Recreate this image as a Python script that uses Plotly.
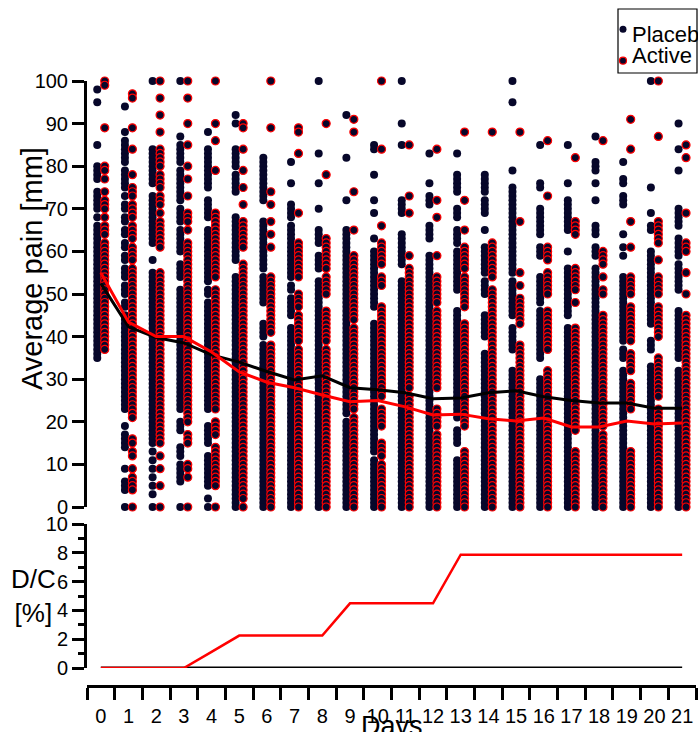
import plotly.graph_objects as go

days = list(range(22))
day_labels = [str(d) for d in days]

placebo_scores = [
    [98, 95, 85, 80, 79, 78, 77, 74, 73, 72, 71, 70, 68, 66, 65, 64, 63, 62, 61, 60, 59, 58, 57, 56, 55, 54, 53, 52, 51, 50, 49, 48, 47, 46, 45, 44, 43, 42, 41, 40, 39, 38, 37, 36, 35],
    [94, 88, 86, 85, 84, 83, 82, 81, 79, 78, 77, 76, 75, 73, 71, 70, 68, 67, 65, 64, 62, 61, 59, 58, 56, 55, 54, 52, 51, 50, 48, 47, 45, 44, 43, 42, 41, 40, 39, 38, 37, 36, 35, 34, 33, 32, 31, 30, 29, 28, 27, 26, 25, 24, 23, 19, 17, 16, 15, 14, 9, 6, 5, 4, 0],
    [100, 84, 83, 82, 81, 80, 79, 78, 77, 76, 73, 72, 71, 70, 69, 68, 67, 66, 65, 64, 63, 62, 58, 55, 54, 53, 52, 51, 50, 49, 48, 47, 46, 45, 44, 43, 42, 41, 40, 39, 38, 37, 36, 35, 34, 33, 32, 31, 30, 29, 28, 27, 26, 25, 24, 23, 22, 21, 20, 19, 18, 17, 16, 15, 13, 11, 9, 7, 5, 3, 0],
    [100, 87, 85, 84, 83, 82, 81, 79, 78, 77, 76, 75, 74, 73, 72, 70, 69, 68, 67, 65, 64, 63, 62, 61, 60, 57, 56, 55, 54, 51, 50, 49, 48, 47, 46, 45, 44, 43, 42, 41, 40, 39, 38, 37, 36, 35, 34, 33, 32, 31, 30, 29, 28, 27, 26, 25, 24, 23, 20, 19, 18, 14, 13, 12, 10, 9, 8, 7, 6, 0],
    [88, 84, 83, 82, 81, 80, 79, 78, 77, 76, 75, 72, 71, 70, 69, 68, 65, 64, 63, 62, 61, 60, 59, 58, 57, 56, 55, 54, 53, 51, 50, 48, 47, 46, 45, 44, 43, 42, 41, 40, 39, 38, 37, 36, 35, 34, 33, 32, 31, 30, 29, 28, 27, 26, 25, 24, 23, 19, 18, 17, 16, 15, 12, 11, 10, 9, 8, 7, 6, 5, 2, 0],
    [92, 90, 84, 83, 82, 81, 80, 78, 77, 76, 75, 74, 68, 67, 66, 65, 64, 63, 62, 61, 60, 59, 58, 54, 53, 52, 51, 50, 49, 48, 47, 46, 45, 44, 43, 42, 41, 40, 39, 38, 37, 36, 35, 34, 33, 32, 31, 30, 29, 28, 27, 26, 25, 24, 23, 22, 21, 20, 19, 18, 17, 16, 15, 14, 13, 12, 11, 10, 9, 8, 7, 6, 5, 4, 3, 2, 1, 0],
    [82, 81, 80, 79, 78, 77, 76, 75, 74, 73, 72, 67, 66, 65, 64, 63, 62, 61, 60, 59, 58, 57, 56, 54, 53, 52, 51, 50, 49, 48, 43, 42, 41, 40, 38, 37, 36, 35, 34, 33, 32, 31, 30, 29, 28, 27, 26, 25, 24, 23, 22, 21, 20, 19, 18, 17, 16, 15, 14, 13, 12, 11, 10, 9, 8, 7, 6, 5, 4, 3, 2, 1, 0],
    [81, 76, 71, 70, 69, 68, 66, 65, 64, 63, 62, 61, 60, 59, 58, 57, 56, 55, 54, 52, 51, 49, 48, 47, 46, 45, 42, 41, 40, 39, 38, 37, 36, 35, 34, 33, 32, 31, 30, 29, 28, 27, 26, 25, 24, 23, 22, 21, 20, 19, 18, 17, 16, 15, 14, 13, 12, 11, 10, 9, 8, 7, 6, 5, 4, 3, 2, 1, 0],
    [100, 83, 76, 70, 65, 64, 63, 62, 59, 58, 57, 56, 53, 52, 51, 50, 49, 48, 47, 46, 45, 44, 43, 42, 41, 40, 39, 38, 37, 36, 35, 34, 33, 32, 31, 30, 29, 28, 27, 26, 25, 24, 23, 22, 21, 20, 19, 18, 17, 16, 15, 14, 13, 12, 11, 10, 9, 8, 7, 6, 5, 4, 3, 2, 1, 0],
    [92, 82, 72, 65, 64, 63, 62, 61, 60, 59, 58, 57, 56, 55, 54, 53, 52, 51, 50, 49, 48, 47, 46, 45, 44, 43, 42, 41, 40, 39, 38, 37, 36, 35, 34, 33, 32, 31, 30, 29, 28, 27, 26, 25, 24, 23, 22, 20, 19, 18, 17, 16, 15, 14, 13, 12, 11, 10, 9, 8, 7, 6, 5, 4, 3, 2, 1, 0],
    [85, 84, 78, 72, 69, 63, 60, 59, 58, 57, 56, 55, 54, 53, 52, 51, 50, 49, 48, 47, 43, 42, 41, 40, 39, 38, 37, 36, 35, 34, 33, 32, 31, 30, 29, 28, 27, 26, 25, 24, 23, 22, 21, 20, 19, 18, 17, 16, 15, 14, 13, 11, 10, 9, 8, 7, 6, 5, 4, 3, 2, 1, 0],
    [100, 90, 85, 72, 71, 70, 69, 64, 63, 62, 61, 60, 59, 58, 57, 53, 52, 51, 50, 49, 48, 47, 46, 45, 44, 43, 42, 41, 40, 39, 38, 37, 36, 35, 34, 33, 32, 31, 30, 29, 28, 27, 26, 25, 24, 23, 22, 21, 20, 19, 18, 17, 16, 15, 14, 13, 12, 11, 10, 9, 8, 7, 6, 5, 4, 3, 2, 1, 0],
    [83, 76, 73, 72, 71, 66, 65, 64, 63, 59, 58, 57, 56, 55, 54, 53, 52, 51, 50, 49, 48, 47, 46, 45, 44, 43, 42, 41, 40, 39, 38, 37, 36, 35, 34, 33, 32, 31, 30, 29, 28, 27, 26, 25, 24, 23, 22, 21, 20, 19, 18, 17, 16, 15, 14, 13, 12, 11, 10, 9, 8, 7, 6, 5, 4, 3, 2, 1, 0],
    [83, 78, 77, 76, 75, 74, 70, 69, 68, 65, 64, 63, 62, 60, 59, 58, 57, 56, 55, 54, 53, 52, 51, 46, 45, 44, 43, 42, 41, 40, 39, 38, 37, 36, 35, 34, 33, 32, 31, 30, 29, 28, 27, 26, 25, 24, 23, 22, 21, 18, 17, 16, 15, 11, 10, 9, 8, 7, 6, 5, 4, 3, 2, 1, 0],
    [78, 77, 76, 75, 74, 72, 71, 70, 69, 65, 61, 60, 59, 58, 57, 56, 55, 53, 52, 51, 50, 45, 44, 43, 42, 41, 40, 36, 35, 34, 33, 32, 31, 30, 29, 28, 27, 26, 25, 24, 23, 22, 21, 20, 19, 18, 17, 16, 15, 14, 13, 12, 11, 10, 9, 8, 7, 6, 5, 4, 3, 2, 1, 0],
    [100, 95, 79, 75, 74, 73, 72, 71, 70, 69, 68, 67, 66, 65, 64, 63, 62, 61, 60, 59, 58, 57, 56, 55, 53, 52, 51, 50, 49, 48, 47, 46, 45, 42, 41, 40, 39, 38, 37, 32, 31, 30, 29, 28, 27, 26, 25, 24, 23, 22, 21, 20, 19, 18, 17, 16, 15, 14, 13, 12, 11, 10, 9, 8, 7, 6, 5, 4, 3, 2, 1, 0],
    [85, 76, 75, 70, 69, 68, 67, 66, 65, 64, 61, 60, 59, 54, 53, 52, 51, 50, 49, 48, 46, 45, 44, 43, 42, 41, 40, 39, 38, 37, 36, 35, 30, 29, 28, 27, 26, 25, 24, 23, 22, 21, 20, 19, 18, 17, 16, 15, 14, 13, 12, 11, 10, 9, 8, 7, 6, 5, 4, 3, 2, 1, 0],
    [85, 76, 72, 71, 70, 69, 68, 67, 66, 65, 60, 56, 55, 54, 53, 52, 51, 50, 49, 48, 47, 46, 45, 42, 41, 40, 39, 38, 37, 36, 35, 34, 33, 32, 31, 30, 29, 28, 27, 26, 25, 24, 23, 22, 21, 20, 19, 18, 17, 16, 15, 14, 13, 12, 11, 10, 9, 8, 7, 6, 5, 4, 3, 2, 1, 0],
    [87, 81, 80, 79, 76, 72, 66, 65, 64, 61, 60, 59, 56, 55, 54, 53, 52, 51, 50, 49, 48, 47, 46, 45, 44, 43, 42, 41, 40, 39, 38, 37, 36, 35, 34, 33, 32, 31, 30, 29, 28, 27, 26, 25, 24, 23, 22, 21, 20, 19, 18, 17, 16, 15, 14, 13, 12, 11, 10, 9, 8, 7, 6, 5, 4, 3, 2, 1, 0],
    [81, 77, 76, 73, 72, 71, 64, 61, 59, 54, 53, 52, 51, 50, 49, 48, 47, 46, 45, 44, 43, 42, 41, 40, 39, 37, 36, 35, 32, 31, 30, 29, 28, 27, 26, 25, 24, 23, 22, 21, 20, 19, 18, 17, 16, 15, 14, 13, 12, 11, 10, 9, 8, 7, 6, 5, 4, 3, 2, 1, 0],
    [100, 75, 69, 66, 65, 60, 59, 58, 57, 56, 55, 54, 53, 52, 51, 50, 49, 48, 47, 46, 45, 44, 43, 39, 38, 37, 33, 32, 31, 30, 29, 28, 27, 26, 25, 24, 23, 22, 21, 20, 19, 18, 17, 16, 15, 14, 13, 12, 11, 10, 9, 8, 7, 6, 5, 4, 3, 2, 1, 0],
    [90, 84, 79, 70, 69, 68, 67, 66, 63, 62, 61, 60, 59, 57, 56, 55, 54, 53, 52, 51, 46, 45, 44, 43, 42, 41, 40, 39, 38, 37, 36, 35, 32, 31, 30, 29, 28, 27, 26, 25, 24, 23, 22, 21, 20, 19, 18, 17, 16, 15, 14, 13, 12, 11, 10, 9, 8, 7, 6, 5, 4, 3, 2, 1, 0],
]

active_scores = [
    [100, 99, 89, 80, 79, 77, 74, 72, 71, 70, 68, 66, 65, 64, 62, 61, 60, 59, 58, 57, 56, 55, 54, 53, 52, 51, 50, 49, 48, 47, 46, 45, 44, 43, 42, 41, 40, 39, 38, 37],
    [97, 96, 89, 84, 78, 75, 74, 73, 71, 70, 69, 68, 66, 65, 64, 63, 61, 60, 59, 58, 56, 55, 54, 53, 52, 51, 50, 49, 48, 47, 46, 45, 44, 43, 42, 41, 40, 39, 38, 37, 36, 35, 34, 33, 32, 31, 30, 29, 28, 27, 26, 25, 24, 23, 22, 21, 16, 15, 13, 12, 9, 7, 6, 5, 4, 0],
    [100, 96, 92, 88, 84, 83, 82, 81, 80, 78, 77, 76, 75, 73, 72, 71, 69, 67, 66, 65, 64, 63, 62, 61, 55, 54, 53, 52, 51, 50, 49, 48, 47, 46, 45, 44, 43, 42, 41, 40, 39, 38, 37, 36, 35, 34, 33, 32, 31, 30, 29, 28, 27, 26, 25, 24, 23, 22, 21, 20, 19, 18, 17, 16, 15, 12, 9, 5, 0],
    [100, 96, 90, 85, 80, 77, 73, 69, 68, 67, 65, 62, 61, 60, 59, 58, 57, 56, 55, 54, 53, 52, 51, 50, 49, 48, 47, 46, 45, 44, 43, 42, 41, 40, 39, 38, 37, 36, 35, 34, 33, 32, 31, 30, 29, 28, 27, 26, 25, 24, 23, 22, 21, 20, 17, 16, 15, 10, 9, 7, 0],
    [100, 90, 86, 79, 69, 68, 67, 66, 65, 64, 63, 62, 61, 60, 59, 58, 57, 56, 55, 54, 51, 50, 49, 48, 47, 46, 45, 44, 43, 42, 41, 40, 39, 38, 37, 36, 35, 34, 33, 32, 31, 30, 29, 28, 27, 26, 25, 24, 23, 20, 19, 18, 17, 14, 13, 12, 11, 10, 9, 8, 7, 6, 5, 0],
    [90, 89, 84, 79, 75, 71, 67, 66, 65, 64, 63, 62, 61, 57, 56, 55, 54, 53, 52, 51, 50, 49, 48, 47, 46, 45, 44, 43, 42, 41, 40, 39, 38, 37, 36, 35, 34, 33, 32, 31, 30, 29, 28, 27, 26, 25, 24, 23, 22, 21, 20, 19, 18, 17, 16, 15, 14, 13, 12, 11, 10, 9, 8, 7, 6, 5, 4, 3, 2, 0],
    [100, 89, 74, 71, 67, 64, 61, 54, 53, 52, 51, 50, 49, 48, 47, 46, 45, 44, 43, 42, 41, 38, 37, 36, 35, 34, 33, 32, 31, 30, 29, 28, 27, 26, 25, 24, 23, 22, 21, 20, 19, 18, 17, 16, 15, 14, 13, 12, 11, 10, 9, 8, 7, 6, 5, 4, 3, 2, 1, 0],
    [89, 88, 83, 69, 62, 61, 60, 59, 58, 57, 56, 55, 54, 50, 49, 48, 47, 45, 44, 43, 42, 41, 40, 39, 37, 36, 35, 34, 33, 32, 31, 30, 29, 28, 27, 26, 25, 24, 23, 22, 21, 20, 19, 18, 17, 16, 15, 14, 13, 12, 11, 10, 9, 8, 7, 6, 5, 4, 3, 2, 1, 0],
    [90, 78, 63, 62, 61, 60, 59, 58, 57, 56, 54, 53, 52, 51, 50, 46, 45, 44, 43, 42, 41, 40, 39, 37, 36, 35, 34, 33, 32, 31, 30, 29, 28, 27, 26, 25, 24, 23, 22, 21, 20, 19, 18, 17, 16, 15, 14, 13, 12, 11, 10, 9, 8, 7, 6, 5, 4, 3, 2, 1, 0],
    [91, 88, 74, 65, 59, 58, 57, 56, 55, 54, 53, 52, 51, 50, 49, 48, 47, 46, 45, 44, 42, 41, 40, 39, 38, 37, 36, 35, 34, 33, 32, 31, 30, 29, 28, 27, 26, 25, 24, 23, 21, 20, 19, 18, 17, 16, 15, 14, 13, 12, 11, 10, 9, 8, 7, 6, 5, 4, 3, 2, 1, 0],
    [100, 84, 66, 62, 61, 60, 59, 58, 57, 54, 53, 52, 47, 46, 45, 44, 43, 42, 41, 40, 39, 38, 37, 36, 35, 34, 33, 32, 31, 30, 29, 28, 27, 26, 23, 22, 21, 20, 19, 15, 14, 13, 12, 10, 9, 8, 7, 6, 5, 4, 3, 2, 1, 0],
    [85, 73, 69, 59, 56, 55, 54, 53, 52, 51, 50, 49, 48, 47, 46, 45, 44, 43, 42, 41, 40, 39, 38, 37, 36, 35, 34, 33, 32, 31, 30, 29, 28, 26, 25, 24, 23, 22, 21, 20, 19, 18, 17, 16, 15, 14, 13, 12, 11, 10, 9, 8, 7, 6, 5, 4, 3, 2, 1, 0],
    [84, 72, 68, 59, 54, 53, 52, 51, 50, 49, 48, 46, 45, 44, 43, 42, 41, 40, 39, 38, 37, 36, 35, 34, 33, 32, 31, 30, 29, 28, 23, 22, 21, 20, 19, 17, 16, 15, 14, 13, 12, 11, 10, 9, 8, 7, 6, 5, 4, 3, 2, 1, 0],
    [88, 72, 65, 61, 60, 59, 58, 57, 56, 54, 53, 52, 51, 50, 49, 48, 47, 43, 42, 41, 40, 39, 38, 37, 36, 35, 34, 33, 32, 31, 30, 29, 28, 27, 26, 25, 24, 23, 22, 21, 20, 19, 13, 12, 11, 10, 9, 8, 7, 6, 5, 4, 3, 2, 1, 0],
    [88, 62, 61, 60, 59, 58, 57, 56, 55, 54, 51, 50, 49, 48, 47, 46, 45, 44, 43, 42, 41, 40, 39, 38, 37, 36, 35, 34, 33, 32, 31, 30, 29, 28, 27, 26, 25, 24, 23, 22, 21, 20, 19, 18, 17, 16, 15, 14, 13, 12, 11, 10, 9, 8, 7, 6, 5, 4, 3, 2, 1, 0],
    [88, 67, 55, 52, 49, 48, 47, 46, 45, 44, 43, 38, 37, 36, 35, 34, 33, 32, 31, 30, 29, 28, 27, 26, 25, 24, 23, 22, 21, 20, 19, 18, 17, 16, 15, 14, 13, 12, 11, 10, 9, 8, 7, 6, 5, 4, 3, 2, 1, 0],
    [86, 73, 61, 60, 59, 58, 55, 54, 53, 52, 51, 50, 46, 45, 44, 43, 42, 41, 40, 39, 38, 37, 32, 31, 30, 29, 28, 27, 26, 25, 24, 23, 22, 21, 20, 19, 18, 17, 16, 15, 14, 13, 12, 11, 10, 9, 8, 7, 6, 5, 4, 3, 2, 1, 0],
    [82, 67, 66, 65, 64, 56, 55, 54, 53, 52, 51, 48, 42, 41, 40, 39, 38, 37, 36, 35, 34, 33, 32, 31, 30, 29, 28, 27, 26, 25, 24, 23, 22, 21, 20, 19, 18, 13, 12, 11, 10, 9, 8, 7, 6, 5, 4, 3, 2, 1, 0],
    [86, 60, 59, 58, 57, 54, 51, 50, 45, 44, 43, 42, 41, 40, 39, 38, 37, 36, 35, 34, 33, 32, 31, 30, 29, 28, 27, 26, 25, 24, 23, 22, 21, 20, 19, 17, 16, 15, 14, 13, 12, 11, 10, 9, 8, 7, 6, 5, 4, 3, 2, 1, 0],
    [91, 84, 67, 61, 54, 53, 52, 51, 50, 47, 46, 45, 44, 43, 42, 41, 40, 39, 36, 35, 34, 33, 32, 29, 28, 27, 26, 25, 24, 23, 13, 12, 11, 10, 9, 8, 7, 6, 5, 4, 3, 2, 1, 0],
    [100, 87, 67, 66, 65, 64, 63, 62, 58, 54, 53, 52, 51, 50, 47, 46, 45, 44, 43, 42, 41, 40, 35, 34, 33, 32, 31, 30, 29, 28, 27, 26, 23, 22, 21, 20, 19, 18, 17, 16, 15, 14, 13, 12, 11, 10, 9, 8, 7, 6, 5, 4, 3, 2, 1, 0],
    [85, 82, 69, 62, 61, 60, 55, 50, 45, 44, 43, 42, 41, 40, 39, 38, 37, 36, 35, 34, 33, 32, 31, 30, 29, 28, 27, 26, 25, 24, 23, 22, 21, 20, 19, 18, 17, 16, 15, 14, 13, 12, 11, 10, 9, 8, 7, 6, 5, 4, 3, 2, 1, 0],
]

placebo_mean = [52.5, 42.3, 39.8, 38.5, 35.7, 34.0, 31.8, 29.8, 30.8, 28.0, 27.5, 26.8, 25.4, 25.6, 26.8, 27.3, 25.9, 25.0, 24.4, 24.4, 23.2, 23.2]
active_mean = [55.0, 43.4, 40.0, 40.0, 36.4, 31.7, 29.3, 28.0, 26.3, 24.7, 25.0, 23.5, 21.6, 21.8, 20.7, 20.2, 20.9, 18.8, 18.8, 20.2, 19.5, 19.7]

placebo_dc = [0, 0, 0, 0, 0, 0, 0, 0, 0, 0, 0, 0, 0, 0, 0, 0, 0, 0, 0, 0, 0, 0]
active_dc = [0, 0, 0, 0, 1.12, 2.25, 2.25, 2.25, 2.25, 4.49, 4.49, 4.49, 4.49, 7.87, 7.87, 7.87, 7.87, 7.87, 7.87, 7.87, 7.87, 7.87]

W, H = 698, 732
FONT = "Liberation Sans, Arial, sans-serif"
DOT = "#07072a"
RED = "#ff0000"
OFF_P, OFF_A = -0.13, 0.14


def px(x):
    return x / W


def py(y):
    return 1 - y / H


fig = go.Figure()

pl_x, pl_y, ac_x, ac_y = [], [], [], []
for d, vals in zip(days, placebo_scores):
    pl_x += [d + OFF_P] * len(vals)
    pl_y += vals
for d, vals in zip(days, active_scores):
    ac_x += [d + OFF_A] * len(vals)
    ac_y += vals

fig.add_trace(go.Scatter(x=pl_x, y=pl_y, mode="markers", name="Placebo",
                         marker=dict(size=8, color=DOT, line=dict(width=0)),
                         cliponaxis=False, showlegend=False, xaxis="x", yaxis="y"))
fig.add_trace(go.Scatter(x=ac_x, y=ac_y, mode="markers", name="Active",
                         marker=dict(size=8, color=DOT, line=dict(width=1.2, color=RED)),
                         cliponaxis=False, showlegend=False, xaxis="x", yaxis="y"))
fig.add_trace(go.Scatter(x=days, y=placebo_mean, mode="lines", name="Placebo mean",
                         line=dict(color="black", width=3),
                         cliponaxis=False, showlegend=False, xaxis="x", yaxis="y"))
fig.add_trace(go.Scatter(x=days, y=active_mean, mode="lines", name="Active mean",
                         line=dict(color=RED, width=3),
                         cliponaxis=False, showlegend=False, xaxis="x", yaxis="y"))

fig.add_trace(go.Scatter(x=days, y=placebo_dc, mode="lines", name="Placebo D/C",
                         line=dict(color="black", width=3),
                         cliponaxis=False, showlegend=False, xaxis="x2", yaxis="y2"))
fig.add_trace(go.Scatter(x=days, y=active_dc, mode="lines", name="Active D/C",
                         line=dict(color=RED, width=2.5),
                         cliponaxis=False, showlegend=False, xaxis="x2", yaxis="y2"))

# legend symbols (manual legend box)
fig.add_trace(go.Scatter(x=[0, 0], y=[0, 1], mode="markers",
                         marker=dict(size=7, color=DOT, line=dict(width=[0, 1.2], color=RED)),
                         showlegend=False, xaxis="x3", yaxis="y3", hoverinfo="skip"))

xdom = [px(87), px(696)]
fig.update_layout(
    width=W, height=H,
    margin=dict(l=0, r=0, t=0, b=0, autoexpand=False),
    paper_bgcolor="white", plot_bgcolor="white",
    font=dict(family=FONT, size=20, color="black"),
    showlegend=False,
    xaxis=dict(domain=xdom, range=[-0.5, 21.5], visible=False, anchor="y"),
    yaxis=dict(domain=[py(507), py(81)], range=[0, 100], anchor="x",
               tickvals=[0, 10, 20, 30, 40, 50, 60, 70, 80, 90, 100],
               ticks="outside", ticklen=12, tickwidth=3, tickcolor="black",
               showline=True, linewidth=3, linecolor="black",
               showgrid=False, zeroline=False, tickfont=dict(size=20)),
    xaxis2=dict(domain=xdom, range=[-0.5, 21.5], anchor="free", position=py(686),
                tickvals=days, ticktext=day_labels,
                ticks="outside", ticklen=11, tickwidth=3, tickcolor="rgba(0,0,0,0)",
                minor=dict(tick0=0.5, dtick=1, ticks="outside", ticklen=12,
                           tickwidth=3, tickcolor="black", showgrid=False),
                showline=True, linewidth=3, linecolor="black",
                showgrid=False, zeroline=False, tickfont=dict(size=20)),
    yaxis2=dict(domain=[py(668), py(524)], range=[0, 10], anchor="x2",
                tickvals=[0, 2, 4, 6, 8, 10],
                ticks="outside", ticklen=12, tickwidth=3, tickcolor="black",
                minor=dict(dtick=1, ticks="outside", ticklen=6, tickwidth=3,
                           tickcolor="black", showgrid=False),
                showline=True, linewidth=3, linecolor="black",
                showgrid=False, zeroline=False, tickfont=dict(size=20)),
    xaxis3=dict(domain=[px(616), px(630)], range=[-1, 1], visible=False, anchor="y3"),
    yaxis3=dict(domain=[py(67), py(23)], range=[1.2, -0.2], visible=False, anchor="x3"),
)

fig.add_shape(type="rect", xref="paper", yref="paper",
              x0=px(618), x1=px(697), y0=py(73), y1=py(9),
              line=dict(color="black", width=1.2), fillcolor="rgba(0,0,0,0)")

ann = [
    dict(text="Placebo", x=px(630), y=py(34)),
    dict(text="Active", x=px(630), y=py(56)),
]
for a in ann:
    fig.add_annotation(xref="paper", yref="paper", xanchor="left", yanchor="middle",
                       showarrow=False, font=dict(size=22), **a)

fig.add_annotation(text="Average pain [mm]", xref="paper", yref="paper",
                   x=px(32), y=py(269), textangle=-90, showarrow=False,
                   xanchor="center", yanchor="middle", font=dict(size=29))
fig.add_annotation(text="D/C<br>[%]", xref="paper", yref="paper",
                   x=px(33), y=py(596), showarrow=False, align="center",
                   xanchor="center", yanchor="middle", font=dict(size=26))
fig.add_annotation(text="Days", xref="paper", yref="paper",
                   x=px(392), y=py(726), showarrow=False,
                   xanchor="center", yanchor="middle", font=dict(size=27))

fig.write_html("out.html")
